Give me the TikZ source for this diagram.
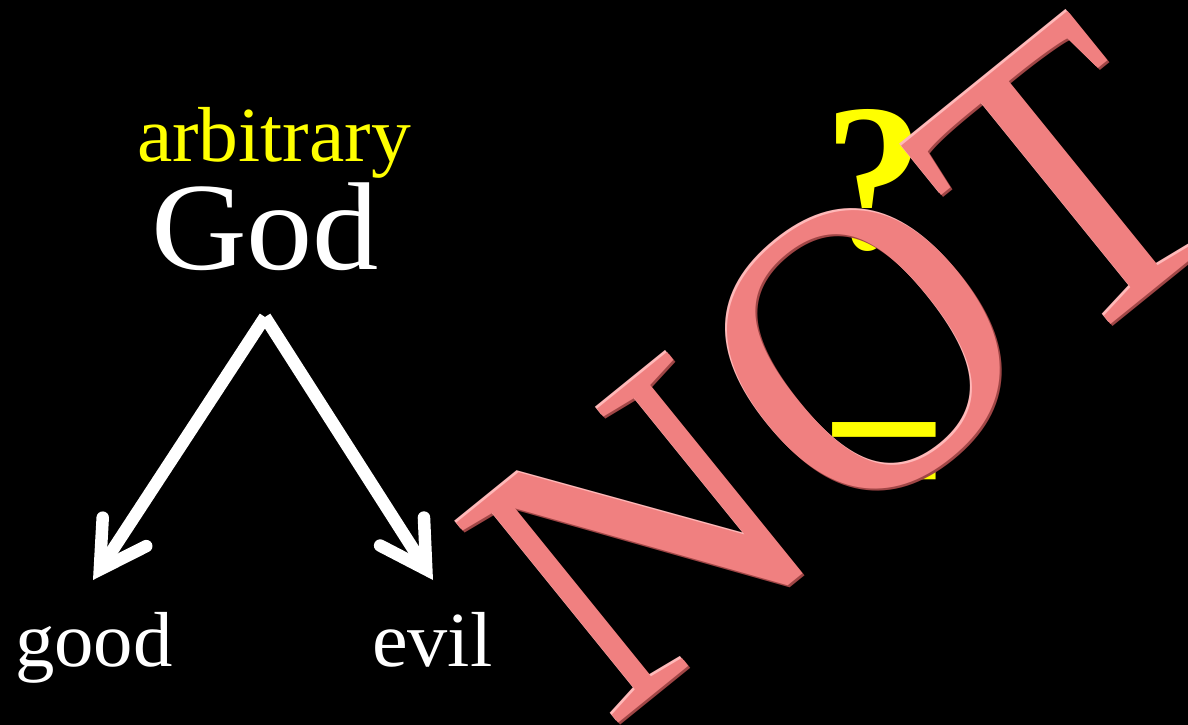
\documentclass[tikz,border=0pt]{standalone}
\usepackage{fontspec}
\setmainfont{Liberation Serif}
\usetikzlibrary{arrows.meta}
\definecolor{notpink}{RGB}{240,128,128}
\definecolor{notdark}{RGB}{160,70,70}
\definecolor{notlight}{RGB}{255,185,185}
\definecolor{qyellow}{RGB}{255,255,0}
\begin{document}
\begin{tikzpicture}[x=1pt,y=-1pt,
  lbl/.style={inner sep=0pt, outer sep=0pt, anchor=base west},
  small/.style={lbl, text=white, font=\fontsize{78}{80}\selectfont},
  branch/.style={draw=white, line width=12.5pt,
    -{Straight Barb[length=45pt,width=52pt,line cap=round,line join=miter]}},
  notletter/.style={inner sep=0pt, outer sep=0pt, anchor=base west, rotate=39}]
\fill[black] (0,0) rectangle (1188,725);
\useasboundingbox (0,0) rectangle (1188,725);

\node[lbl, text=qyellow, font=\fontsize{78}{80}\selectfont, xscale=1.02] (arb) at (137,161) {arbitrary};
\node[lbl, text=white, font=\fontsize{125}{130}\selectfont, xscale=1.06] (god) at (151,269) {God};
\node[small, xscale=1.01] (good) at (15,666) {good};
\node[small, xscale=1.03] (evil) at (372,666) {evil};

\coordinate (apex) at (265,317);
\coordinate (tipL) at (93,580);
\coordinate (tipR) at (433,580);
\draw[branch] (apex) -- (tipL);
\draw[branch] (apex) -- (tipR);

\node[lbl, text=qyellow, font=\bfseries\fontsize{210}{210}\selectfont, xscale=0.95] (q) at (824,248) {?};
\node[lbl, text=qyellow, font=\bfseries\fontsize{212}{212}\selectfont, xscale=1.05] (eq) at (821,521) {=};

% NOT (bevelled)
\foreach \dx/\dy/\col in {2.5/2.5/notdark, -1.5/-1.5/notlight, 0/0/notpink}{
  \node[notletter, text=\col, font=\fontsize{393}{400}\selectfont, xscale=1.03] at (609+\dx,730+\dy) {N};
  \node[notletter, text=\col, font=\fontsize{414}{414}\selectfont, xscale=0.92] at (842+\dx,541+\dy) {O};
  \node[notletter, text=\col, font=\fontsize{413}{413}\selectfont, xscale=0.9] at (1066+\dx,360+\dy) {T};
}
\end{tikzpicture}
\end{document}
